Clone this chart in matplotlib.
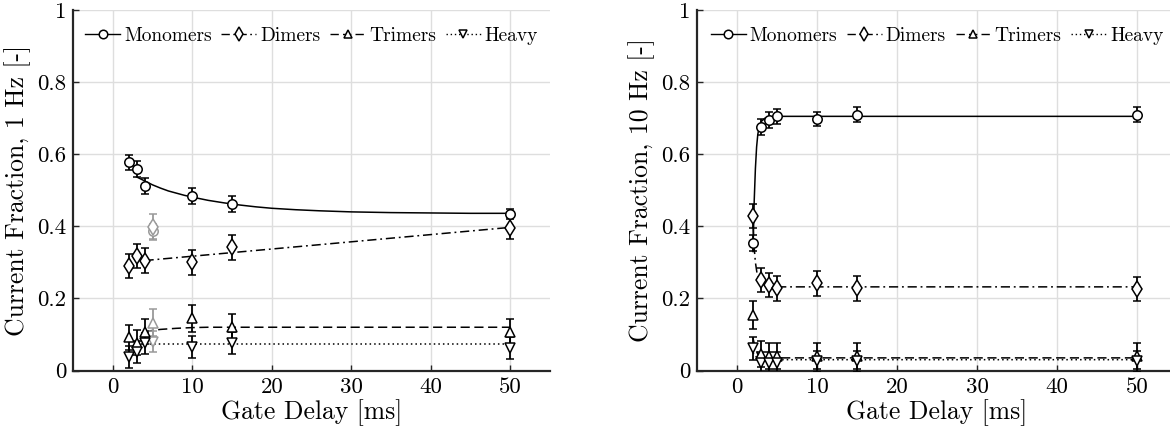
import numpy as np
import matplotlib
matplotlib.use("Agg")
import matplotlib.pyplot as plt
from matplotlib.lines import Line2D

plt.rcParams['font.family'] = ['cmr10', 'DejaVu Serif']
plt.rcParams['mathtext.fontset'] = 'cm'
plt.rcParams['axes.formatter.use_mathtext'] = True
plt.rcParams['axes.unicode_minus'] = False

series = ["Monomers", "Dimers", "Trimers", "Heavy"]
markers = ["o", "d", "^", "v"]
linestyles = ["-", (0, (6, 2.5, 1.2, 2.5)), (0, (6, 3)), (0, (1, 2))]

# ---- 1 Hz panel ----
x1 = [2, 3, 4, 10, 15, 50]
mono1 = [0.577, 0.560, 0.512, 0.485, 0.462, 0.434]
dim1 = [0.290, 0.318, 0.305, 0.300, 0.342, 0.395]
tri1 = [0.092, 0.077, 0.108, 0.145, 0.122, 0.108]
hev1 = [0.038, 0.052, 0.075, 0.066, 0.077, 0.062]
mono1_err = [0.022, 0.022, 0.022, 0.022, 0.022, 0.015]
dim1_err = [0.034, 0.034, 0.034, 0.034, 0.035, 0.030]
tri1_err = [0.035, 0.035, 0.035, 0.037, 0.035, 0.035]
hev1_err = [0.030, 0.030, 0.030, 0.030, 0.030, 0.030]
# outlier (grey) points at 5 ms
xg = [5]
mono_g = [0.386]
dim_g = [0.398]
tri_g = [0.133]
hev_g = [0.080]
mono_g_err = [0.020]
dim_g_err = [0.037]
tri_g_err = [0.037]
hev_g_err = [0.030]

# fit curves
fit1_mono_x = [3, 4, 5, 6, 7, 8, 9, 10, 12, 14, 16, 18, 20, 23, 26, 30, 35, 40, 45, 50]
fit1_mono_y = [0.537, 0.526, 0.515, 0.506, 0.498, 0.492, 0.486, 0.481, 0.472, 0.465,
               0.459, 0.454, 0.450, 0.446, 0.443, 0.440, 0.438, 0.437, 0.436, 0.436]
fit1_dim_x = [4, 50]
fit1_dim_y = [0.305, 0.397]
fit1_tri_x = [4, 5, 6, 8, 10, 12, 15, 50]
fit1_tri_y = [0.108, 0.111, 0.114, 0.117, 0.119, 0.120, 0.120, 0.120]
fit1_hev_x = [4, 50]
fit1_hev_y = [0.074, 0.074]

# ---- 10 Hz panel ----
x2 = [2, 3, 4, 5, 10, 15, 50]
mono2 = [0.353, 0.675, 0.694, 0.705, 0.698, 0.710, 0.710]
dim2 = [0.429, 0.251, 0.237, 0.228, 0.242, 0.228, 0.226]
tri2 = [0.154, 0.045, 0.040, 0.040, 0.040, 0.040, 0.040]
hev2 = [0.062, 0.020, 0.020, 0.020, 0.025, 0.025, 0.025]
mono2_err = [0.022, 0.022, 0.022, 0.020, 0.020, 0.020, 0.020]
dim2_err = [0.034, 0.034, 0.034, 0.034, 0.034, 0.034, 0.034]
tri2_err = [0.039, 0.036, 0.036, 0.036, 0.036, 0.036, 0.036]
hev2_err = [0.032, 0.030, 0.030, 0.030, 0.030, 0.030, 0.030]

fit2_mono_x = [2, 2.15, 2.3, 2.45, 2.6, 2.8, 3.0, 3.5, 4, 5, 50]
fit2_mono_y = [0.33, 0.47, 0.56, 0.62, 0.655, 0.678, 0.690, 0.700, 0.704, 0.705, 0.705]
fit2_dim_x = [2, 2.15, 2.3, 2.5, 2.75, 3.0, 3.5, 4, 5, 50]
fit2_dim_y = [0.40, 0.34, 0.30, 0.27, 0.253, 0.244, 0.236, 0.233, 0.232, 0.232]
fit2_tri_x = [2, 2.3, 2.6, 3, 4, 50]
fit2_tri_y = [0.09, 0.06, 0.045, 0.038, 0.035, 0.035]
fit2_hev_x = [2, 2.3, 2.6, 3, 4, 50]
fit2_hev_y = [0.05, 0.04, 0.034, 0.031, 0.030, 0.030]

xticks = [0, 10, 20, 30, 40, 50]
yticks = [0, 0.2, 0.4, 0.6, 0.8, 1.0]
ytick_labels = ["0", "0.2", "0.4", "0.6", "0.8", "1"]

fig = plt.figure(figsize=(11.7, 4.38), dpi=100)
ax1 = fig.add_axes([73/1170, (438-370.5)/438, 477/1170, 360.5/438])
ax2 = fig.add_axes([697/1170, (438-370.5)/438, 480/1170, 360.5/438])

MS = 6.8
MSD = 8.2
EB = dict(capsize=2.6, elinewidth=1.3, capthick=1.3)


def msize(m):
    return MSD if m == "d" else MS


def draw_points(ax, x, y, e, m, color):
    ax.errorbar(x, y, yerr=e, fmt=m, color=color, mfc='white', mec=color,
                ms=msize(m), mew=1.1, ecolor=color, zorder=3,
                linestyle='none', **EB)


def style(ax, ylabel):
    ax.set_xlim(-5, 55)
    ax.set_ylim(0, 1)
    ax.set_xticks(xticks)
    ax.set_xticklabels([str(t) for t in xticks])
    ax.set_yticks(yticks)
    ax.set_yticklabels(ytick_labels)
    ax.tick_params(direction='in', length=4, width=1, labelsize=16.5, color='#262626', pad=5)
    for s in ['top', 'right']:
        ax.spines[s].set_visible(False)
    for s in ['left', 'bottom']:
        ax.spines[s].set_linewidth(1.6)
        ax.spines[s].set_color('#262626')
    ax.grid(True, color='#dedede', linewidth=1.0)
    ax.set_axisbelow(True)
    ax.set_xlabel("Gate Delay [ms]", fontsize=18.5, labelpad=2)
    ax.set_ylabel(ylabel, fontsize=18.5, labelpad=4)
    handles = [Line2D([], [], color='black', ls=ls, lw=1.0, marker=m, mfc='white', mec='black',
                      ms=msize(m) * 0.9, mew=1.1)
               for m, ls in zip(markers, linestyles)]
    ax.legend(handles, series, loc='upper center', ncol=4, frameon=False, fontsize=14,
              handlelength=1.8, handletextpad=0.2, columnspacing=0.5,
              bbox_to_anchor=(0.5, 0.985), borderaxespad=0.2)


# left panel
ax = ax1
lw = 1.1
ax.plot(fit1_mono_x, fit1_mono_y, color='black', ls=linestyles[0], lw=lw, zorder=2)
ax.plot(fit1_dim_x, fit1_dim_y, color='black', ls=linestyles[1], lw=lw, zorder=2)
ax.plot(fit1_tri_x, fit1_tri_y, color='black', ls=linestyles[2], lw=lw, zorder=2)
ax.plot(fit1_hev_x, fit1_hev_y, color='black', ls=linestyles[3], lw=lw, zorder=2)
grey = '#9a9a9a'
draw_points(ax, xg, mono_g, mono_g_err, "o", grey)
draw_points(ax, xg, dim_g, dim_g_err, "d", grey)
draw_points(ax, xg, tri_g, tri_g_err, "^", grey)
draw_points(ax, xg, hev_g, hev_g_err, "v", grey)
for y, e, m in zip([mono1, dim1, tri1, hev1], [mono1_err, dim1_err, tri1_err, hev1_err], markers):
    draw_points(ax, x1, y, e, m, 'black')
style(ax, "Current Fraction, 1 Hz [-]")

# right panel
ax = ax2
ax.plot(fit2_mono_x, fit2_mono_y, color='black', ls=linestyles[0], lw=lw, zorder=2)
ax.plot(fit2_dim_x, fit2_dim_y, color='black', ls=linestyles[1], lw=lw, zorder=2)
ax.plot(fit2_tri_x, fit2_tri_y, color='black', ls=linestyles[2], lw=lw, zorder=2)
ax.plot(fit2_hev_x, fit2_hev_y, color='black', ls=linestyles[3], lw=lw, zorder=2)
for y, e, m in zip([mono2, dim2, tri2, hev2], [mono2_err, dim2_err, tri2_err, hev2_err], markers):
    draw_points(ax, x2, y, e, m, 'black')
style(ax, "Current Fraction, 10 Hz [-]")

fig.savefig("out.png", dpi=100)
